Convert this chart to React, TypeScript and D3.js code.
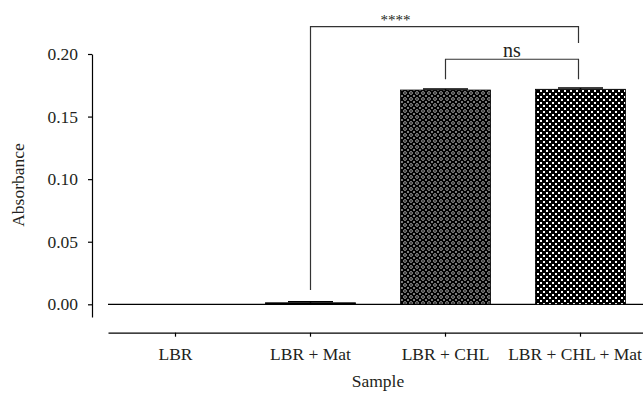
import * as d3 from 'd3'
import { useEffect, useRef } from 'react'

// sample groups and measured absorbance
const categories = ['LBR', 'LBR + Mat', 'LBR + CHL', 'LBR + CHL + Mat']
const means = [0, 0.0012, 0.1712, 0.1718]
const errors = [0, 0.0008, 0.0008, 0.001]
const fills = ['none', '#000', 'url(#patCircX)', 'url(#patCheck)']
const yTicks = [0, 0.05, 0.1, 0.15, 0.2]

// significance brackets
const compFrom = [1, 2]
const compTo = [3, 3]
const compTop = [0.2218, 0.1958]
const compLeftLeg = [0.0114, 0.1798]
const compRightLeg = [0.2088, 0.1798]
const compLabel = ['****', 'ns']

const W = 643
const H = 396
const FONT = '"Liberation Serif", "Times New Roman", serif'
const INK = '#231f20'
const FS = '17.5px'

const BarChart = () => {
    const xAxisRef = useRef<SVGGElement>(null)
    const yAxisRef = useRef<SVGGElement>(null)

    const xScale = d3.scaleBand<string>()
        .domain(categories)
        .range([108, 648])
        .paddingInner(1 / 3)
        .paddingOuter(1 / 6)

    const yScale = d3.scaleLinear()
        .domain([0, 0.2])
        .range([304.3, 54])

    const cx = (i: number) => (xScale(categories[i]) ?? 0) + xScale.bandwidth() / 2

    useEffect(() => {
        if (yAxisRef.current) {
            const axisScale = yScale.copy().domain([yScale.invert(317), 0.2]).range([317, 54])
            const g = select(yAxisRef.current)
            g.call(d3.axisLeft(axisScale).tickValues(yTicks).tickFormat(d3.format('.2f')).tickSize(4).tickSizeOuter(0).tickPadding(10))
            g.selectAll('text').style('font-family', FONT).style('font-size', FS).attr('fill', INK)
            g.selectAll('line,path').attr('stroke', '#000').attr('stroke-width', 1.2)
        }
        if (xAxisRef.current) {
            const g = select(xAxisRef.current)
            g.call(d3.axisBottom(xScale).tickSize(4).tickSizeOuter(0).tickPadding(11))
            g.selectAll('text').style('font-family', FONT).style('font-size', FS).attr('fill', INK)
            g.selectAll('line,path').attr('stroke', '#000').attr('stroke-width', 1.2)
            // keep the last label inside the picture, it sits right on the edge
            g.selectAll<SVGTextElement, string>('text').each(function (d) {
                const len = this.getComputedTextLength()
                const right = cx(categories.indexOf(d)) + len / 2
                if (right > W - 1) select(this).attr('dx', W - 1 - right)
            })
        }
    }, [])

    return (
        <svg width={W} height={H} style={{ position: 'absolute', left: 0, top: 0, background: '#fff' }}>
            <defs>
                <pattern id="patCircX" width={6} height={6} patternUnits="userSpaceOnUse">
                    <rect width={6} height={6} fill="#000" />
                    <circle cx={3} cy={3} r={1.4} fill="none" stroke="#fff" strokeWidth={0.6} />
                    <path d="M0,0 L0.8,0.8 M6,0 L5.2,0.8 M0,6 L0.8,5.2 M6,6 L5.2,5.2" stroke="#fff" strokeWidth={0.6} />
                </pattern>
                <pattern id="patCheck" width={6} height={6} patternUnits="userSpaceOnUse">
                    <rect width={6} height={6} fill="#000" />
                    <rect x={0} y={0} width={2} height={2} fill="#fff" />
                    <rect x={3} y={3} width={2} height={2} fill="#fff" />
                </pattern>
            </defs>

            {/* zero line */}
            <line x1={108} x2={648} y1={yScale(0)} y2={yScale(0)} stroke="#000" strokeWidth={1.2} />

            {categories.map((c, i) => means[i] > 0 && (
                <rect key={c}
                    x={xScale(c)}
                    y={yScale(means[i])}
                    width={xScale.bandwidth()}
                    height={yScale(0) - yScale(means[i])}
                    fill={fills[i]}
                    stroke="#000"
                    strokeWidth={0.8}
                />
            ))}

            {/* error caps */}
            {categories.map((c, i) => errors[i] > 0 && (
                <g key={'e' + c} stroke="#000" strokeWidth={1.5}>
                    <line x1={cx(i)} x2={cx(i)} y1={yScale(means[i])} y2={yScale(means[i] + errors[i])} />
                    <line x1={cx(i) - xScale.bandwidth() / 4} x2={cx(i) + xScale.bandwidth() / 4}
                        y1={yScale(means[i] + errors[i])} y2={yScale(means[i] + errors[i])} />
                </g>
            ))}

            {compLabel.map((lab, k) => {
                const x1 = cx(compFrom[k])
                const x2 = cx(compTo[k]) - 2
                const yTop = yScale(compTop[k])
                const isStars = lab === '****'
                const lx = isStars ? x1 + 85 : (x1 + x2) / 2
                return (
                    <g key={lab}>
                        <path
                            d={`M${x1},${yScale(compLeftLeg[k])} V${yTop} H${x2} V${yScale(compRightLeg[k])}`}
                            fill="none" stroke="#333" strokeWidth={1.2}
                        />
                        <text x={lx} y={isStars ? yTop - 1.5 : yTop - 2.5} textAnchor="middle"
                            fontFamily={FONT} fontSize={isStars ? 15 : 20} fill={INK}>{lab}</text>
                    </g>
                )
            })}

            <g ref={yAxisRef} transform="translate(92,0)" />
            <g ref={xAxisRef} transform="translate(0,332.7)" />

            <text transform={`translate(24,${185}) rotate(-90)`} textAnchor="middle"
                fontFamily={FONT} fontSize={FS} fill={INK}>Absorbance</text>
            <text x={378} y={387} textAnchor="middle" fontFamily={FONT} fontSize={FS} fill={INK}>Sample</text>
        </svg>
    )
}

const select = d3.select

export default function App() {
    return <BarChart />
}
